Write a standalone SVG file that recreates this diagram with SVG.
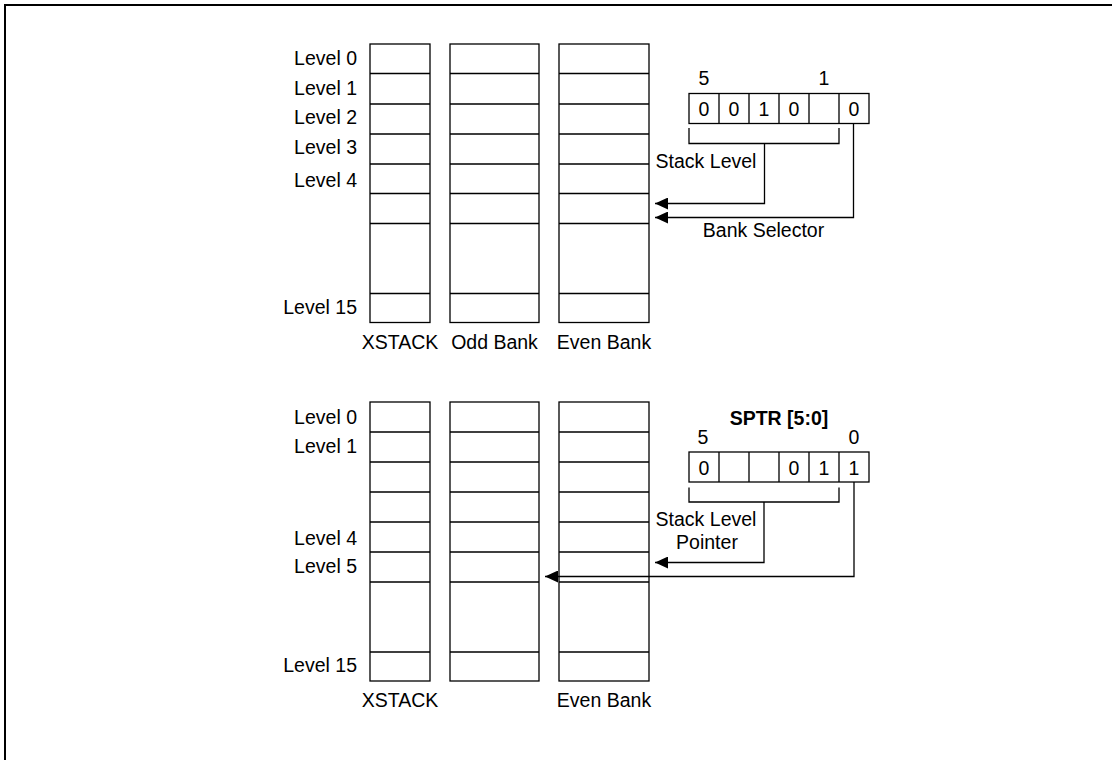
<svg xmlns="http://www.w3.org/2000/svg" width="1112" height="760" viewBox="0 0 1112 760">
<defs>
<style>
.t{font-family:"Liberation Sans",Arial,sans-serif;font-size:19.5px;fill:#000}
.r{text-anchor:end}
.m{text-anchor:middle}
.b{font-weight:bold}
.box{fill:#fff;stroke:#000;stroke-width:1.3}
.ln{fill:none;stroke:#000;stroke-width:1.3}
.w{fill:none;stroke:#000;stroke-width:1.3}
</style>
<marker id="ah" viewBox="0 0 13 12" refX="13" refY="6" markerWidth="13" markerHeight="12" markerUnits="userSpaceOnUse" orient="auto">
<path d="M0,0 L13,6 L0,12 Z" fill="#000"/>
</marker>
</defs>
<rect width="1112" height="760" fill="#fff"/>
<g id="frame">
<path d="M5,760 V5 H1112" fill="none" stroke="#000" stroke-width="2"/>
</g>

<!-- Top section -->
<g id="top-labels">
<text class="t r" x="357" y="65">Level 0</text>
<text class="t r" x="357" y="94.5">Level 1</text>
<text class="t r" x="357" y="124">Level 2</text>
<text class="t r" x="357" y="153.5">Level 3</text>
<text class="t r" x="357" y="186.5">Level 4</text>
<text class="t r" x="357" y="314">Level 15</text>
</g>
<g id="top-xstack">
<rect class="box" x="370" y="44" width="60" height="278.5"/>
<path class="ln" d="M370,73.5H430M370,104H430M370,134H430M370,164H430M370,193.5H430M370,223.5H430M370,293.5H430"/>
<text class="t m" x="400" y="349">XSTACK</text>
</g>
<g id="top-odd">
<rect class="box" x="450" y="44" width="89" height="278.5"/>
<path class="ln" d="M450,73.5H539M450,104H539M450,134H539M450,164H539M450,193.5H539M450,223.5H539M450,293.5H539"/>
<text class="t m" x="494.5" y="349">Odd Bank</text>
</g>
<g id="top-even">
<rect class="box" x="559" y="44" width="90" height="278.5"/>
<path class="ln" d="M559,73.5H649M559,104H649M559,134H649M559,164H649M559,193.5H649M559,223.5H649M559,293.5H649"/>
<text class="t m" x="604" y="349">Even Bank</text>
</g>
<g id="top-register">
<rect class="box" x="689" y="93.5" width="180" height="30"/>
<path class="ln" d="M719,93.5V123.5M749,93.5V123.5M779,93.5V123.5M809,93.5V123.5M839,93.5V123.5"/>
<text class="t m" x="704" y="116">0</text>
<text class="t m" x="734" y="116">0</text>
<text class="t m" x="764" y="116">1</text>
<text class="t m" x="794" y="116">0</text>
<text class="t m" x="854" y="116">0</text>
<text class="t m" x="704" y="85">5</text>
<text class="t m" x="824" y="85">1</text>
<text class="t m" x="706" y="167.5">Stack Level</text>
<text class="t m" x="763.5" y="236.5">Bank Selector</text>
</g>

<!-- Bottom section -->
<g id="bottom-labels">
<text class="t r" x="357" y="423.5">Level 0</text>
<text class="t r" x="357" y="452.5">Level 1</text>
<text class="t r" x="357" y="544.5">Level 4</text>
<text class="t r" x="357" y="572.5">Level 5</text>
<text class="t r" x="357" y="671.5">Level 15</text>
</g>
<g id="bottom-xstack">
<rect class="box" x="370" y="402" width="60" height="279"/>
<path class="ln" d="M370,432H430M370,462H430M370,492H430M370,522H430M370,552H430M370,582H430M370,652H430"/>
<text class="t m" x="400" y="707">XSTACK</text>
</g>
<g id="bottom-odd">
<rect class="box" x="450" y="402" width="89" height="279"/>
<path class="ln" d="M450,432H539M450,462H539M450,492H539M450,522H539M450,552H539M450,582H539M450,652H539"/>
</g>
<g id="bottom-even">
<rect class="box" x="559" y="402" width="90" height="279"/>
<path class="ln" d="M559,432H649M559,462H649M559,492H649M559,522H649M559,552H649M559,582H649M559,652H649"/>
<text class="t m" x="604" y="707">Even Bank</text>
</g>
<g id="bottom-register">
<text class="t m b" x="779" y="425">SPTR [5:0]</text>
<rect class="box" x="689" y="452" width="180" height="30"/>
<path class="ln" d="M719,452V482M749,452V482M779,452V482M809,452V482M839,452V482"/>
<text class="t m" x="704" y="475">0</text>
<text class="t m" x="794" y="475">0</text>
<text class="t m" x="824" y="475">1</text>
<text class="t m" x="854" y="475">1</text>
<text class="t m" x="703" y="443.5">5</text>
<text class="t m" x="854" y="443.5">0</text>
<text class="t m" x="706" y="526">Stack Level</text>
<text class="t m" x="707" y="548.5">Pointer</text>
</g>

<g id="connectors">
<path class="w" d="M689,128V143.5H839V128M764.5,143.5V203.5H655" marker-end="url(#ah)"/>
<path class="w" d="M853.5,123.5V217.5H655" marker-end="url(#ah)"/>
<path class="w" d="M689,487.5V502H839V487.5M764,502V562.5H655" marker-end="url(#ah)"/>
<path class="w" d="M854,482V576.5H545" marker-end="url(#ah)"/>
</g>
</svg>
